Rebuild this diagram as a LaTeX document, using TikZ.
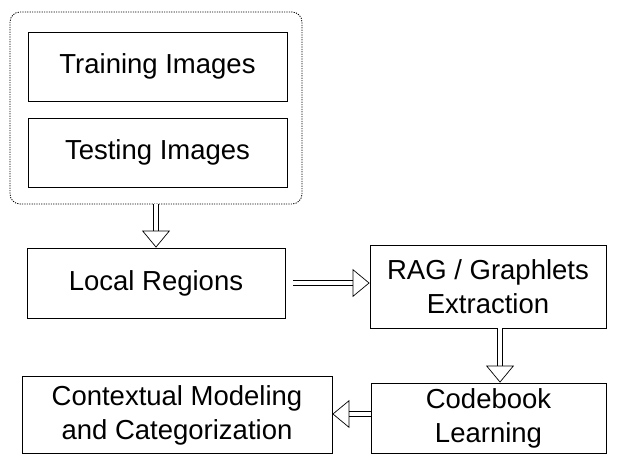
\documentclass[tikz,border=0pt]{standalone}
\usepackage{fontspec}
\setmainfont{Liberation Sans}
\usetikzlibrary{arrows.meta}
\tikzset{
  stage/.style={draw, line width=0.8pt, inner sep=0pt, align=center,
    font=\fontsize{27.5}{34}\selectfont},
  hollow/.style={double, double distance=4.5pt, line width=0.7pt,
    -{Triangle[open, length=17pt, width=28pt]}},
}
\begin{document}
\begin{tikzpicture}[x=1pt,y=-1pt]
  \useasboundingbox (0,0) rectangle (627,456);
  % input images
  \draw[dash pattern=on 1.2pt off 1.2pt, line width=0.8pt, rounded corners=10pt] (10,12) rectangle (302,204);
  \node[stage, minimum width=259pt, minimum height=69pt] (train) at (157.5,66.5) {Training Images};
  \node[stage, minimum width=259pt, minimum height=69pt] (test) at (157.5,152.5) {Testing Images};
  \coordinate (imgs) at (156,204);
  % pipeline
  \node[stage, minimum width=258pt, minimum height=70pt] (local) at (156,283) {Local Regions};
  \node[stage, minimum width=236pt, minimum height=83pt] (rag) at (488,286.5) {RAG / Graphlets\\Extraction};
  \node[stage, minimum width=235pt, minimum height=70pt] (code) at (488.5,418) {Codebook\\Learning};
  \node[stage, minimum width=310pt, minimum height=77pt] (ctx) at (177,415) {Contextual Modeling\\and Categorization};
  % connectors
  \draw[hollow] (imgs) -- (local.north -| imgs);
  \draw[hollow] ([xshift=8pt]local.east) -- (rag.west |- local.east);
  \draw[hollow] (rag.south -| 500,0) -- (code.north -| 500,0);
  \draw[hollow] (code.west |- 0,414) -- (ctx.east |- 0,414);
\end{tikzpicture}
\end{document}
